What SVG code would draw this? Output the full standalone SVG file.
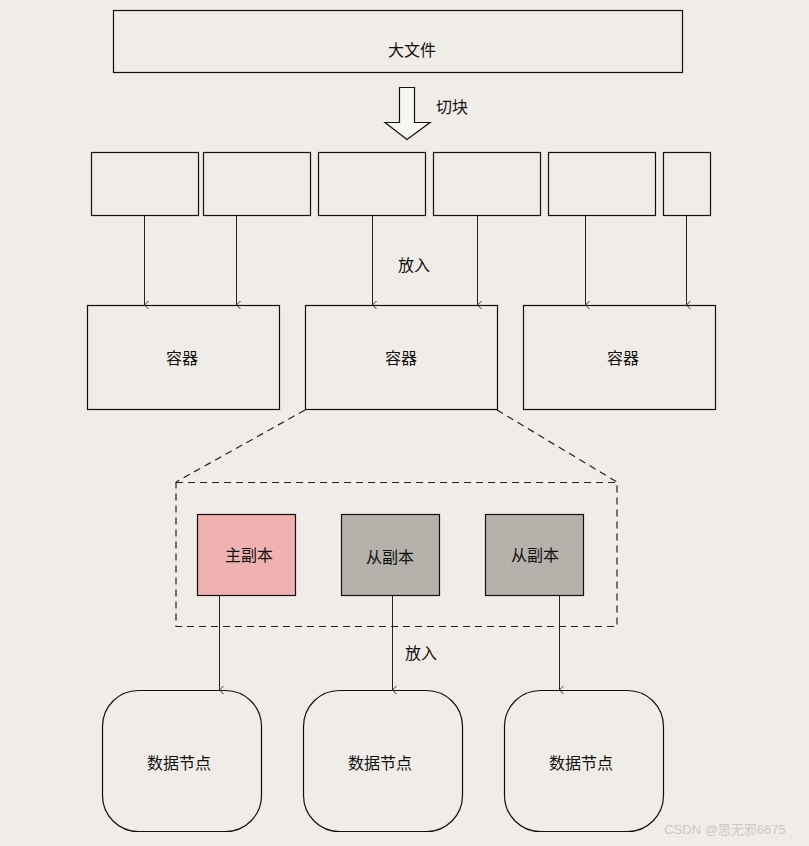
<svg xmlns="http://www.w3.org/2000/svg" width="809" height="846" viewBox="0 0 809 846">
<defs>
<marker id="arr" markerWidth="10" markerHeight="10" refX="5" refY="9" orient="auto-start-reverse" markerUnits="userSpaceOnUse" viewBox="0 0 10 10">
<path d="M1,5 L5,9 L9,5" fill="none" stroke="#333" stroke-width="1"/>
</marker>
</defs>
<style>
text{font-family:"Noto Sans CJK SC","Noto Sans",sans-serif;font-size:16px;fill:#111;text-anchor:middle;dominant-baseline:central}
.box{fill:#f0ede8;stroke:#111;stroke-width:1.2}
.ln{stroke:#222;stroke-width:1;fill:none}
.dash{stroke:#222;stroke-width:1.2;fill:none;stroke-dasharray:7,5}
</style>
<rect width="809" height="846" fill="#f0ede8"/>
<g id="bigfile"><rect class="box" x="113.5" y="10.5" width="569" height="62"/><text x="412" y="49">大文件</text></g>
<g id="split"><path d="M399.5,87.5 H414.5 V122.5 H430 L407,139.5 L385,122.5 H399.5 Z" fill="#f8f6f2" stroke="#111" stroke-width="1.2"/><text x="452" y="106">切块</text></g>
<g id="b1"><rect class="box" x="91.5" y="152.5" width="107" height="63"/></g>
<g id="b2"><rect class="box" x="203.5" y="152.5" width="107" height="63"/></g>
<g id="b3"><rect class="box" x="318.5" y="152.5" width="107" height="63"/></g>
<g id="b4"><rect class="box" x="433.5" y="152.5" width="107" height="63"/></g>
<g id="b5"><rect class="box" x="548.5" y="152.5" width="107" height="63"/></g>
<g id="b6"><rect class="box" x="663.5" y="152.5" width="47" height="63"/></g>
<g id="c1"><rect class="box" x="87.5" y="305.5" width="192" height="104"/><text x="182" y="357">容器</text></g>
<g id="c2"><rect class="box" x="305.5" y="305.5" width="192" height="104"/><text x="401" y="357">容器</text></g>
<g id="c3"><rect class="box" x="523.5" y="305.5" width="192" height="104"/><text x="623" y="357">容器</text></g>
<g id="expand"><path class="dash" d="M305,410 L176,482"/><path class="dash" d="M497,410 L617,482"/><rect class="dash" x="176" y="482.5" width="441" height="144"/></g>
<g id="r1"><rect x="197.5" y="514.5" width="98" height="81" fill="#f0b2b0" stroke="#111" stroke-width="1.2"/><text x="249" y="554">主副本</text></g>
<g id="r2"><rect x="341.5" y="514.5" width="98" height="81" fill="#b5b2ac" stroke="#111" stroke-width="1.2"/><text x="390" y="556">从副本</text></g>
<g id="r3"><rect x="485.5" y="514.5" width="98" height="81" fill="#b5b2ac" stroke="#111" stroke-width="1.2"/><text x="535" y="554">从副本</text></g>
<g id="d1"><rect class="box" x="102.5" y="690.5" width="159" height="141" rx="36"/><text x="179" y="762">数据节点</text></g>
<g id="d2"><rect class="box" x="303.5" y="690.5" width="159" height="141" rx="36"/><text x="380" y="762">数据节点</text></g>
<g id="d3"><rect class="box" x="504.5" y="690.5" width="159" height="141" rx="36"/><text x="581" y="762">数据节点</text></g>
<g id="connectors">
<line class="ln" x1="144.5" y1="216" x2="144.5" y2="305" marker-end="url(#arr)"/>
<line class="ln" x1="236.5" y1="216" x2="236.5" y2="305" marker-end="url(#arr)"/>
<line class="ln" x1="372.5" y1="216" x2="372.5" y2="305" marker-end="url(#arr)"/>
<line class="ln" x1="477.5" y1="216" x2="477.5" y2="305" marker-end="url(#arr)"/>
<line class="ln" x1="585.5" y1="216" x2="585.5" y2="305" marker-end="url(#arr)"/>
<line class="ln" x1="686.5" y1="216" x2="686.5" y2="305" marker-end="url(#arr)"/>
<line class="ln" x1="219.5" y1="596" x2="219.5" y2="690" marker-end="url(#arr)"/>
<line class="ln" x1="392.5" y1="596" x2="392.5" y2="690" marker-end="url(#arr)"/>
<line class="ln" x1="559.5" y1="596" x2="559.5" y2="690" marker-end="url(#arr)"/>
<text x="414" y="264">放入</text>
<text x="421" y="652">放入</text>
</g>
<text x="725" y="829" style="font-family:'Liberation Sans','Noto Sans CJK SC',sans-serif;font-size:13px;fill:#cbc9c5">CSDN @思无邪6675</text>
</svg>
